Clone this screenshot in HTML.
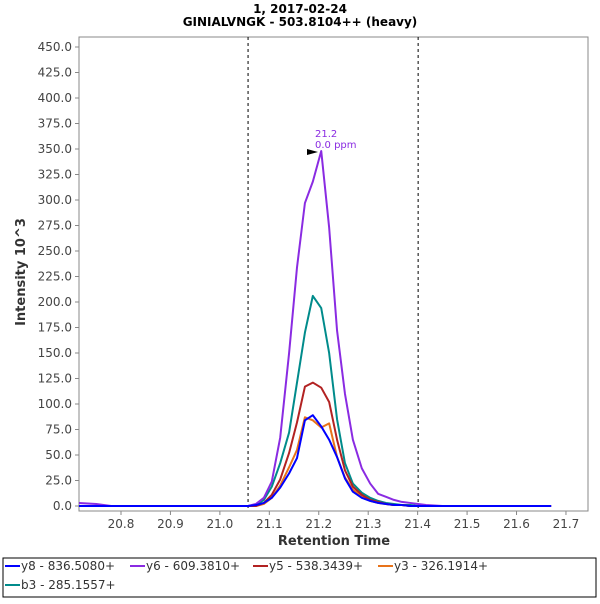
<!DOCTYPE html>
<html><head><meta charset="utf-8"><style>
body{margin:0;background:#fff;font-family:"DejaVu Sans","Liberation Sans",sans-serif;}
svg text{font-family:"DejaVu Sans","Liberation Sans",sans-serif;}
</style></head><body>
<svg id="chart" width="600" height="600" xmlns="http://www.w3.org/2000/svg">
<rect width="600" height="600" fill="#fff"/>
<text x="300" y="13" text-anchor="middle" font-size="12" font-weight="bold">1, 2017-02-24</text>
<text x="300" y="26" text-anchor="middle" font-size="12" font-weight="bold">GINIALVNGK - 503.8104++ (heavy)</text>
<rect x="79" y="37" width="509" height="474" fill="#fff" stroke="#888"/>
<g id="yaxis"></g>
<g id="xaxis"></g>
<text transform="translate(25,272) rotate(-90)" text-anchor="middle" font-size="13" font-weight="bold" fill="#333">Intensity 10^3</text>
<text x="334" y="545" text-anchor="middle" font-size="13" font-weight="bold" fill="#333">Retention Time</text>
<g id="markers"></g>
<g id="series"></g>
<g>
<text x="315" y="137" font-size="10" fill="#8a2be2">21.2</text>
<text x="315" y="148" font-size="10" fill="#8a2be2">0.0 ppm</text>
<polygon points="307,149 318,152 307,155" fill="#000"/>
</g>
<rect x="3" y="558" width="593" height="39" fill="#fff" stroke="#000"/>
<g id="legend"></g>
</svg>
<script>
const times=[20.715,20.75,20.78,21.04,21.057,21.073,21.089,21.105,21.122,21.140,21.156,21.172,21.188,21.205,21.221,21.237,21.253,21.269,21.287,21.304,21.320,21.336,21.352,21.368,21.385,21.401,21.417,21.45,21.67];
const y8=[0,0,0,0,0,1,3,8,18,32,47,84,89,78,65,48,27,14,8,5,3,2,1,1,0,0,0,0,0];
const y6=[3,2,0,0,0,2,8,24,67,150,234,297,318,348,273,172,110,65,37,22,12,9,6,4,3,2,1,0,0];
const y5=[0,0,0,0,0,0,3,11,26,52,82,117,121,116,102,65,35,19,11,6,4,2,1,1,0,0,0,0,0];
const y3=[0,0,0,0,0,0,2,8,20,38,55,87,84,77,81,48,28,16,9,5,3,2,1,1,0,0,0,0,0];
const b3=[0,0,0,0,0,1,6,19,42,72,121,170,206,194,150,85,42,22,13,8,5,3,2,1,1,0,0,0,0];
const seriesNames=["y8 - 836.5080+","y6 - 609.3810+","y5 - 538.3439+","y3 - 326.1914+","b3 - 285.1557+"];
const seriesColors=["#0000ff","#8a2be2","#b22222","#e8731a","#008b8b"];
const yTicks=[0,25,50,75,100,125,150,175,200,225,250,275,300,325,350,375,400,425,450];
const xTicks=[20.8,20.9,21.0,21.1,21.2,21.3,21.4,21.5,21.6,21.7];
const markerTimes=[21.057,21.401];
const NS="http://www.w3.org/2000/svg";
const X=t=>121+(t-20.8)*494.4;
const Y=v=>506-v*1.02;
function mk(tag,attrs,parent){const e=document.createElementNS(NS,tag);for(const k in attrs)e.setAttribute(k,attrs[k]);parent.appendChild(e);return e;}
const ya=document.getElementById('yaxis'),xa=document.getElementById('xaxis');
yTicks.forEach(v=>{mk('line',{x1:75,x2:79,y1:Y(v),y2:Y(v),stroke:'#888'},ya);
 const t=mk('text',{x:72,y:Y(v)+4,'text-anchor':'end','font-size':12,fill:'#444'},ya);t.textContent=v.toFixed(1);
 
 });
xTicks.forEach(v=>{mk('line',{x1:X(v),x2:X(v),y1:511,y2:515,stroke:'#888'},xa);
 const t=mk('text',{x:X(v),y:528,'text-anchor':'middle','font-size':12,fill:'#444'},xa);t.textContent=v.toFixed(1);
 
 });
const mg=document.getElementById('markers');
markerTimes.forEach(t=>{const l=mk('line',{x1:X(t),x2:X(t),y1:37,y2:511,stroke:'#000','stroke-width':1,'stroke-dasharray':'3,3'},mg);
 
 });
const data=[y8,y6,y5,y3,b3];
const sg=document.getElementById('series');
[4,3,2,1,0].forEach(i=>{const p=mk('polyline',{points:times.map((t,j)=>X(t)+','+Y(data[i][j])).join(' '),fill:'none',stroke:seriesColors[i],'stroke-width':2,'stroke-linejoin':'round'},sg);
 
 });
const lg=document.getElementById('legend');
const lx=[5,130,253,378,5],ly=[570,570,570,570,589];
seriesNames.forEach((n,i)=>{const g=mk('g',{},lg);
 
 
 mk('line',{x1:lx[i],x2:lx[i]+15,y1:ly[i]-4,y2:ly[i]-4,stroke:seriesColors[i],'stroke-width':2},g);
 const t=mk('text',{x:lx[i]+16,y:ly[i],'font-size':12,fill:'#333'},g);t.textContent=n;});
</script>
</body></html>
